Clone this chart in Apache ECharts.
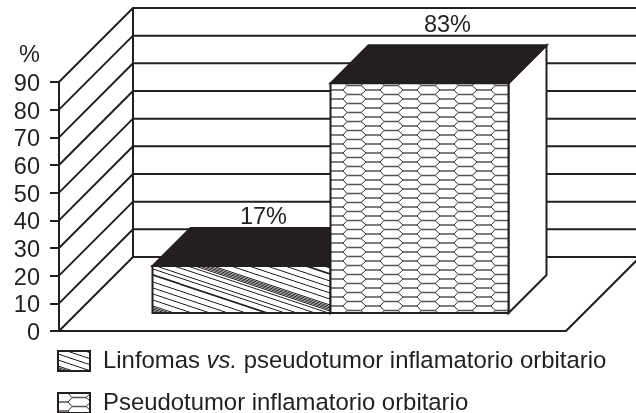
<!DOCTYPE html>
<html>
<head>
<meta charset="utf-8">
<title>Linfomas vs. pseudotumor</title>
<style>
  html, body { margin: 0; padding: 0; background: #fff; }
  #main { width: 636px; height: 413px; }
</style>
<script src="https://cdn.jsdelivr.net/npm/echarts@6/dist/echarts.min.js"></script>
</head>
<body>
<div id="main"></div>
<script>
var categories = ['Linfomas vs. pseudotumor inflamatorio orbitario', 'Pseudotumor inflamatorio orbitario'];
var values = [17, 83];
var valueLabels = ['17%', '83%'];
var yTicks = [0, 10, 20, 30, 40, 50, 60, 70, 80, 90];

var INK = '#231f20';
var FONT = '"Liberation Sans", Arial, sans-serif';
var WALL_DEPTH = 74;  // profundidad de la pared del fondo
var BAR_INSET = 18;   // separacion entre el plano frontal y la barra
var BAR_DEPTH = 38;
var BAR_WIDTH = 178;
var LABEL_DX = [22, 28];
var LABEL_DY = [10, 20];
var LEGEND_TOP = [349, 391];

// trama diagonal de la primera barra
function diagonalTile() {
  var c = document.createElement('canvas');
  c.width = 180;
  c.height = 60;
  var g = c.getContext('2d');
  var offsets = [15, 16.5, 18, 19.5, 21, 23.5, 28, 34, 38, 44, 51, 57, 3, 9];
  g.fillStyle = '#fff';
  g.fillRect(0, 0, 180, 60);
  g.strokeStyle = INK;
  offsets.forEach(function (o) {
    g.lineWidth = o === 44 ? 1.7 : 1;
    [-60, 0].forEach(function (shift) {
      g.beginPath();
      g.moveTo(0, o + shift);
      g.lineTo(180, o + shift + 60);
      g.stroke();
    });
  });
  return c;
}

// trama de hexagonos de la segunda barra
function hexTile() {
  var c = document.createElement('canvas');
  c.width = 37;
  c.height = 9;
  var g = c.getContext('2d');
  g.fillStyle = '#fff';
  g.fillRect(0, 0, 37, 9);
  [-37, 0, 37].forEach(function (dx) {
    [-9, 0, 9].forEach(function (dy) {
      // tramos horizontales
      g.strokeStyle = '#555';
      g.lineWidth = 1.4;
      g.beginPath();
      g.moveTo(dx + 14, dy + 4.5); g.lineTo(dx + 28, dy + 4.5);
      g.moveTo(dx + 33, dy + 9); g.lineTo(dx + 47, dy + 9);
      g.stroke();
      // diagonales que los unen
      g.strokeStyle = '#333';
      g.lineWidth = 1;
      g.beginPath();
      g.moveTo(dx + 28, dy + 4.5); g.lineTo(dx + 33, dy + 9);
      g.moveTo(dx + 28, dy + 4.5); g.lineTo(dx + 33, dy);
      g.moveTo(dx + 47, dy + 9); g.lineTo(dx + 51, dy + 4.5);
      g.moveTo(dx + 47, dy + 9); g.lineTo(dx + 51, dy + 13.5);
      g.stroke();
    });
  });
  return c;
}

var patterns = [
  { image: diagonalTile(), repeat: 'repeat' },
  { image: hexTile(), repeat: 'repeat' }
];

function renderWall(params, api) {
  var left = params.coordSys.x;
  var right = left + params.coordSys.width;
  var value = api.value(0);
  var y = api.coord([0, value])[1];
  var lineStyle = { stroke: INK, lineWidth: 2, fill: null };
  var points = [[left, y], [left + WALL_DEPTH, y - WALL_DEPTH], [right + WALL_DEPTH, y - WALL_DEPTH]];
  var children = [{ type: 'polyline', shape: { points: points }, style: lineStyle }];
  if (value === 0) {
    var topY = api.coord([0, yTicks[yTicks.length - 1]])[1];
    children.push({
      type: 'line',
      shape: { x1: right, y1: y, x2: right + WALL_DEPTH, y2: y - WALL_DEPTH },
      style: lineStyle
    });
    children.push({
      type: 'line',
      shape: { x1: left + WALL_DEPTH, y1: y - WALL_DEPTH, x2: left + WALL_DEPTH, y2: topY - WALL_DEPTH },
      style: lineStyle
    });
  }
  return { type: 'group', children: children };
}

function barRenderer(index) {
  return function (params, api) {
    var center = api.coord([0, 0])[0];
    var x = center + (index - 1) * BAR_WIDTH + BAR_INSET;
    var yBase = api.coord([0, 0])[1] - BAR_INSET;
    var yTop = api.coord([0, api.value(1)])[1] - BAR_INSET;
    var x2 = x + BAR_WIDTH;
    var d = BAR_DEPTH;
    var edge = { stroke: INK, lineWidth: 2, lineJoin: 'miter' };
    return {
      type: 'group',
      children: [
        {
          type: 'polygon',
          shape: { points: [[x2, yTop], [x2 + d, yTop - d], [x2 + d, yBase - d], [x2, yBase]] },
          style: Object.assign({ fill: '#fff' }, edge)
        },
        {
          type: 'polygon',
          shape: { points: [[x, yTop], [x + d, yTop - d], [x2 + d, yTop - d], [x2, yTop]] },
          style: Object.assign({ fill: INK }, edge)
        },
        {
          type: 'rect',
          shape: { x: x, y: yTop, width: BAR_WIDTH, height: yBase - yTop },
          style: Object.assign({ fill: patterns[index] }, edge)
        },
        {
          type: 'text',
          style: {
            text: valueLabels[index],
            x: x + BAR_WIDTH / 2 + LABEL_DX[index],
            y: yTop - d - LABEL_DY[index],
            align: 'center',
            verticalAlign: 'middle',
            fill: INK,
            font: '23.5px ' + FONT
          }
        }
      ]
    };
  };
}

var myChart = echarts.init(document.getElementById('main'));

var option = {
  animation: false,
  backgroundColor: '#fff',
  grid: { left: 59, right: 70, top: 82, bottom: 82 },
  // una leyenda por fila, asi cada una queda donde toca
  legend: categories.map(function (name, i) {
    return {
      orient: 'vertical',
      left: 57,
      top: LEGEND_TOP[i],
      padding: 0,
      icon: 'rect',
      itemWidth: 32,
      itemHeight: 20,
      selectedMode: false,
      data: [{ name: name, itemStyle: { color: patterns[i], borderColor: INK, borderWidth: 2 } }],
      formatter: function (n) {
        if (n === categories[0]) {
          return '{s|}{a|Linfomas }{i|vs.}{a| pseudotumor inflamatorio orbitario}';
        }
        return '{s|}{a|' + n + '}';
      },
      textStyle: {
        rich: {
          s: { width: 8 },
          a: { fontFamily: FONT, fontSize: 23.9, color: INK },
          i: { fontFamily: FONT, fontSize: 23.9, color: INK, fontStyle: 'italic' }
        }
      }
    };
  }),
  xAxis: {
    type: 'category',
    data: [''],
    axisTick: { show: false },
    axisLabel: { show: false },
    axisLine: { lineStyle: { color: INK, width: 2 } }
  },
  yAxis: {
    type: 'value',
    min: 0,
    max: 90,
    interval: 10,
    name: '%',
    nameLocation: 'end',
    nameGap: 14,
    nameTextStyle: { fontFamily: FONT, fontSize: 23.5, color: INK, align: 'right', padding: [0, 19, 0, 0] },
    splitLine: { show: false },
    axisLine: { show: true, lineStyle: { color: INK, width: 2 } },
    axisTick: { show: true, length: 9, lineStyle: { color: INK, width: 2 } },
    axisLabel: {
      margin: 19,
      formatter: '{v|{value}}',
      rich: {
        // el relleno superior baja el numero hasta la marca
        v: { padding: [5, 0, 0, 0], fontFamily: FONT, fontSize: 23.5, color: INK }
      }
    }
  },
  series: [
    {
      type: 'custom',
      name: 'pared',
      z: 1,
      silent: true,
      clip: false,
      data: yTicks.map(function (v) { return [v]; }),
      encode: { y: 0 },
      renderItem: renderWall
    }
  ].concat(categories.map(function (name, i) {
    return {
      type: 'custom',
      name: name,
      z: 2 + i,
      clip: false,
      data: [[0, values[i]]],
      encode: { x: 0, y: 1 },
      itemStyle: { color: patterns[i] },
      renderItem: barRenderer(i)
    };
  }))
};

myChart.setOption(option);
</script>
</body>
</html>
